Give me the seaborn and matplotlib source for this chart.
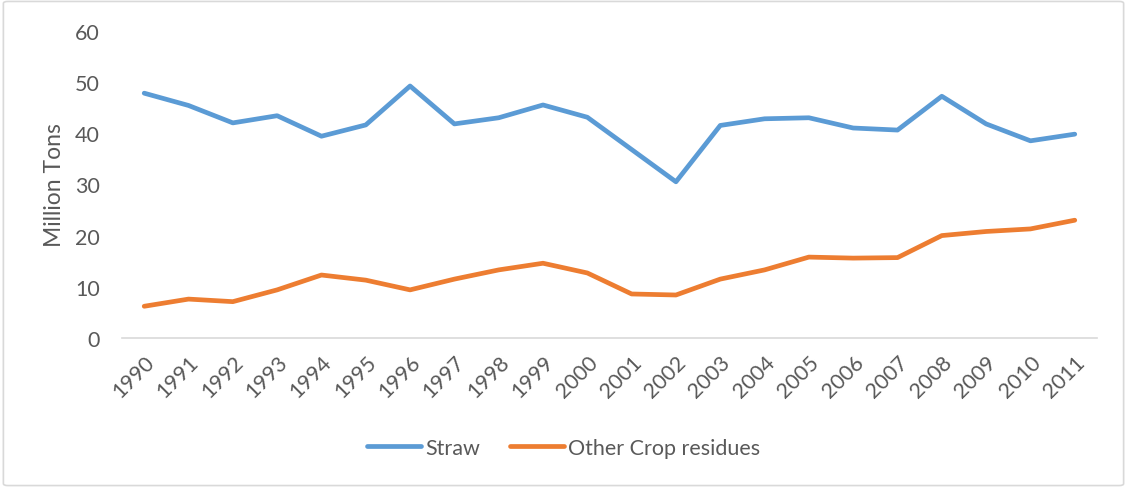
import matplotlib
matplotlib.use("Agg")
import matplotlib.pyplot as plt
import seaborn as sns
import pandas as pd
from matplotlib.patches import FancyBboxPatch

years = [str(y) for y in range(1990, 2012)]
straw = [47.8, 45.4, 42.0, 43.4, 39.4, 41.6, 49.2, 41.8, 43.0, 45.5, 43.1,
         36.8, 30.5, 41.5, 42.8, 43.0, 41.0, 40.6, 47.2, 41.8, 38.5, 39.8]
other = [6.2, 7.6, 7.1, 9.4, 12.3, 11.3, 9.4, 11.5, 13.3, 14.6, 12.7,
         8.6, 8.4, 11.5, 13.3, 15.8, 15.6, 15.7, 20.0, 20.8, 21.3, 23.0]
series_names = ["Straw", "Other Crop residues"]
colors = ["#5B9BD5", "#ED7D31"]
yticks = [0, 10, 20, 30, 40, 50, 60]

df = pd.DataFrame({
    "Year": years * 2,
    "Value": straw + other,
    "Series": [series_names[0]] * len(years) + [series_names[1]] * len(years),
})

sns.set_theme(style="white")
plt.rcParams["font.family"] = ["Lato", "DejaVu Sans"]

fig = plt.figure(figsize=(11.27, 4.89), dpi=100)
ax = fig.add_axes([0.1083, 0.3067, 0.865, 0.6285])

sns.lineplot(data=df, x="Year", y="Value", hue="Series", palette=colors,
             linewidth=3.4, ax=ax, sort=False, legend=True)

txt = "#595959"
fs = 15.5
ax.set_xlim(-0.5, len(years) - 0.5)
ax.set_ylim(0, 60)
ax.set_yticks(yticks)
ax.set_yticklabels([str(t) for t in yticks], color=txt, fontsize=fs)
ax.set_xticks(range(len(years)))
ax.set_xticklabels(years, rotation=45, ha="right", rotation_mode="anchor",
                   color=txt, fontsize=fs)
ax.tick_params(axis="y", length=0, pad=16)
ax.tick_params(axis="x", length=0, pad=10)
ax.set_xlabel("")
ax.set_ylabel("Million Tons", color=txt, fontsize=16.5, labelpad=7)

for s in ["top", "right", "left"]:
    ax.spines[s].set_visible(False)
ax.spines["bottom"].set_color("#D9D9D9")
ax.spines["bottom"].set_linewidth(1.2)

handles, labels = ax.get_legend_handles_labels()
ax.legend_.remove()
leg = fig.legend(handles, labels, loc="center", bbox_to_anchor=(0.5, 0.082),
                 ncol=2, frameon=False, fontsize=fs, handlelength=2.5,
                 handletextpad=0.2, columnspacing=1.4)
for t in leg.get_texts():
    t.set_color(txt)
for h in leg.legend_handles:
    h.set_linewidth(3.4)

border = FancyBboxPatch((0.003, 0.005), 0.994, 0.99, transform=fig.transFigure,
                        boxstyle="round,pad=0,rounding_size=0.004",
                        fill=False, edgecolor="#D9D9D9", linewidth=1.2)
fig.patches.append(border)

fig.savefig("out.png", dpi=100)
